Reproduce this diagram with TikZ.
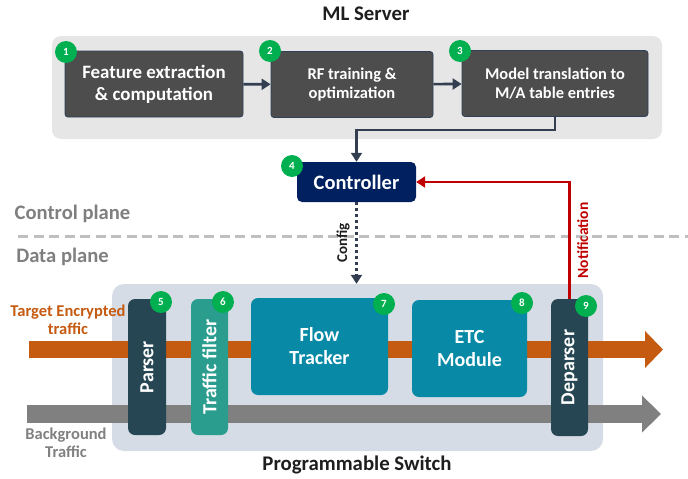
\documentclass[tikz,border=0pt]{standalone}
\usepackage{fontspec}
\setmainfont{Carlito}
\usetikzlibrary{arrows.meta,calc}

\definecolor{mlbg}{HTML}{E6E6E6}
\definecolor{stepfill}{HTML}{4D4D4D}
\definecolor{stepedge}{HTML}{2F4058}
\definecolor{navyline}{HTML}{333F50}
\definecolor{ctrlfill}{HTML}{002060}
\definecolor{swbg}{HTML}{D6DCE5}
\definecolor{parsefill}{HTML}{264653}
\definecolor{filterfill}{HTML}{2A9D8F}
\definecolor{blockfill}{HTML}{088AA6}
\definecolor{trafficorange}{HTML}{C55A11}
\definecolor{trafficgray}{HTML}{808080}
\definecolor{notifred}{HTML}{C00000}
\definecolor{planegray}{HTML}{BFBFBF}
\definecolor{labelgray}{HTML}{7F7F7F}
\definecolor{badgegreen}{HTML}{00B050}
\definecolor{titletext}{HTML}{1E1E1E}

\tikzset{
  stepbox/.style={draw=stepedge, line width=0.8pt, fill=stepfill, rounded corners=3pt,
    text=white, font=\bfseries, align=center, inner sep=0pt},
  stage/.style={rounded corners=7pt, text=white, font=\fontsize{20}{22}\selectfont\bfseries,
    align=center, inner sep=0pt},
  badge/.style={circle, fill=badgegreen, text=white, inner sep=0pt, minimum size=22pt,
    font=\fontsize{11}{11}\selectfont\bfseries},
  flowline/.style={draw=navyline, line width=2.6pt, -{Triangle[length=9pt,width=11pt]}},
  heading/.style={font=\fontsize{20.8}{23}\selectfont\bfseries, text=titletext},
  planelabel/.style={font=\fontsize{20.6}{23}\selectfont\bfseries, text=labelgray},
}

\begin{document}
\begin{tikzpicture}[x=1pt,y=-1pt]
\useasboundingbox (0,0) rectangle (688,479);

% ML server
\node[heading] (mltitle) at (366,14) {ML Server};
\node[fill=mlbg, rounded corners=9pt, minimum width=610pt, minimum height=103pt, inner sep=0pt]
  (mlbox) at (357,87.5) {};

\node[stepbox, minimum width=178pt, minimum height=66pt, font=\fontsize{18.9}{21}\selectfont\bfseries]
  (s1) at (154,84) {Feature extraction\\[1pt]\& computation};
\node[stepbox, minimum width=162pt, minimum height=66pt, font=\fontsize{16.5}{18}\selectfont\bfseries]
  (s2) at (352,84.5) {RF training \&\\[1pt]optimization};
\node[stepbox, minimum width=186pt, minimum height=66pt, font=\fontsize{16.4}{18}\selectfont\bfseries]
  (s3) at (555,83.5) {Model translation to\\[1pt]M/A table entries};

\draw[flowline] (s1) -- (s2);
\draw[flowline] (s2) -- (s3);

% controller
\node[fill=ctrlfill, rounded corners=5pt, minimum width=119pt, minimum height=40pt, inner sep=0pt,
  text=white, font=\fontsize{20.5}{22}\selectfont\bfseries] (ctrl) at (356.5,182) {Controller};
\draw[flowline] (s3.south) -- ++(0,13) -| (ctrl.north);

% control / data plane divider
\coordinate (divl) at (18,236);
\coordinate (divr) at (688,236);
\draw[planegray, line width=3pt, dash pattern=on 10pt off 5.5pt] (divl) -- (divr);
\node[planelabel] (cplane) at (72.5,214) {Control plane};
\node[planelabel] (dplane) at (62.5,257) {Data plane};

% programmable switch
\node[fill=swbg, rounded corners=12pt, minimum width=491pt, minimum height=167pt, inner sep=0pt]
  (sw) at (357.5,367.5) {};
\node[heading] (swtitle) at (357,465) {Programmable Switch};

% traffic streams
\coordinate (tin) at (29,349.5);
\coordinate (tout) at (663,349.5);
\coordinate (bin) at (27,414);
\coordinate (bout) at (661,414);
\draw[trafficorange, line width=17pt, -{Triangle[length=18pt,width=36pt]}] (tin) -- (tout);
\draw[trafficgray, line width=18pt, -{Triangle[length=19pt,width=36pt]}] (bin) -- (bout);
\node[text=trafficorange, font=\fontsize{16.5}{18}\selectfont\bfseries, align=center]
  (tlabel) at (68,320) {Target Encrypted\\traffic};
\node[text=trafficgray, font=\fontsize{16.5}{18}\selectfont\bfseries, align=center]
  (blabel) at (66,443) {Background\\Traffic};

% pipeline stages
\node[stage, fill=parsefill, rotate=90, minimum width=136pt, minimum height=38pt]
  (parser) at (147,367) {Parser};
\node[stage, fill=filterfill, rotate=90, minimum width=136pt, minimum height=37pt]
  (filter) at (209.5,367) {Traffic filter};
\node[stage, fill=blockfill, minimum width=137pt, minimum height=97pt]
  (tracker) at (319.5,346.5) {Flow\\[1pt]Tracker};
\node[stage, fill=blockfill, minimum width=115pt, minimum height=97pt]
  (etc) at (469.5,348.5) {ETC\\[1pt]Module};
\node[stage, fill=parsefill, rotate=90, minimum width=137pt, minimum height=37pt]
  (dep) at (569.5,367.5) {Deparser};

% config and notification paths
\draw[navyline, line width=3pt, dash pattern=on 3pt off 3pt, -{Triangle[length=9pt,width=11pt]}]
  (ctrl.south) -- (ctrl.south |- sw.north)
  node[midway, left=2pt, rotate=90, anchor=south, text=titletext,
       font=\fontsize{15}{16}\selectfont\bfseries] {Config};
\draw[notifred, line width=2.6pt, -{Triangle[length=9pt,width=11pt]}]
  (dep.east) |- (ctrl.east)
  node[pos=0.25, rotate=90, anchor=north, yshift=-3pt, text=notifred,
       font=\fontsize{15.5}{16}\selectfont\bfseries] {Notification};

% step numbers
\node[badge] (b1) at (66,52) {1};
\node[badge] (b2) at (270,51) {2};
\node[badge] (b3) at (460,51) {3};
\node[badge] (b4) at (292,166) {4};
\node[badge] (b5) at (161,302) {5};
\node[badge] (b6) at (223,302) {6};
\node[badge] (b7) at (384,304) {7};
\node[badge] (b8) at (522,303) {8};
\node[badge] (b9) at (586,306) {9};
\end{tikzpicture}
\end{document}
